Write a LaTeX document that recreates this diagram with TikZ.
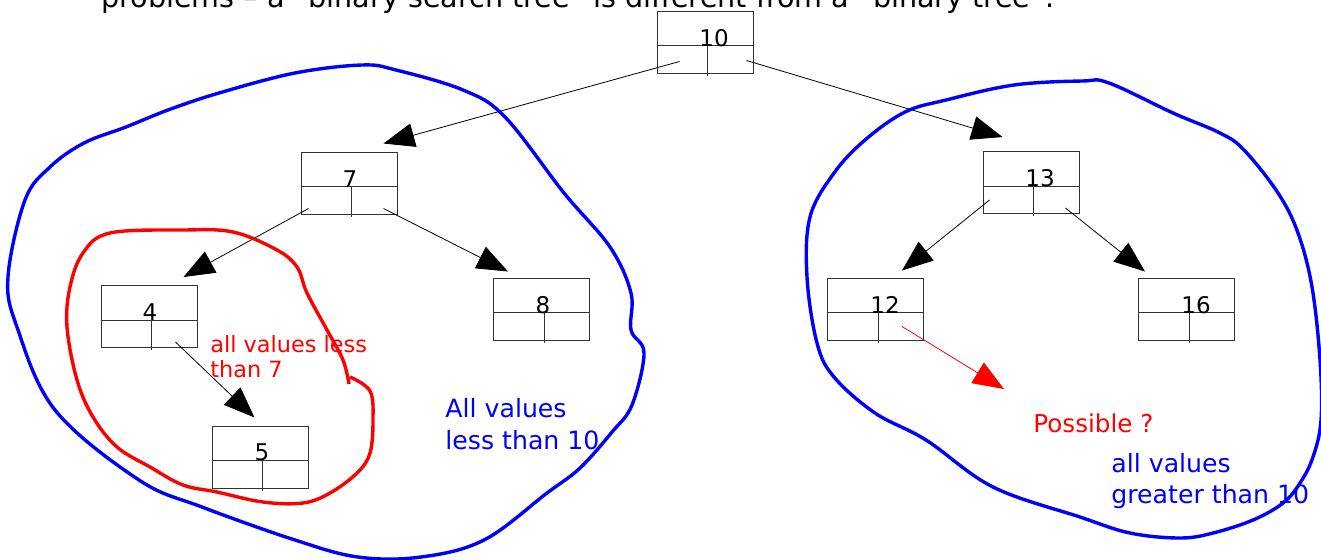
\documentclass[tikz,border=0pt]{standalone}
\usepackage{fontspec}
\setmainfont{DejaVu Sans}
\usetikzlibrary{arrows.meta, calc, positioning}

\begin{document}
\begin{tikzpicture}[
    x=0.5pt, y=-0.5pt,
    bstbox/.style={draw=black!80, line width=0.5pt, rectangle, minimum width=48pt, minimum height=31pt, inner sep=0pt},
    keytext/.style={anchor=base, inner sep=0pt, font=\fontsize{11.5}{13}\selectfont},
    divider/.style={draw=black!80, line width=0.5pt},
    link/.style={-{Triangle[length=15.5pt, width=12pt]}, line width=0.4pt},
    region/.style={line width=1.7pt, line join=round},
    note/.style={anchor=base west, inner sep=0pt, align=left}
]

\useasboundingbox (0,0) rectangle (1321,559);
\clip (0,0) rectangle (1321,559);

% Heading (cut at the top)
\node[note, font=\fontsize{14.3}{17}\selectfont] (title) at (101,7) {problems – a “binary search tree” is different from a “binary tree”.};

% Tree boxes
\node[bstbox] (n10) at (705,42) {};
\node[bstbox] (n7) at (349,183) {};
\node[bstbox] (n4) at (149,316.5) {};
\node[bstbox] (n8) at (541.5,309) {};
\node[bstbox] (n5) at (260,457) {};
\node[bstbox] (n13) at (1031,182.5) {};
\node[bstbox] (n12) at (875.5,309) {};
\node[bstbox] (n16) at (1186.5,309) {};

% Cells of each box
\foreach \n in {n10,n7,n4,n8,n5,n13,n12,n16} {
    \draw[divider] ($(\n.north west)+(0,35)$) -- ($(\n.north east)+(0,35)$);
    \draw[divider] ($(\n.north west)+(51,35)$) -- ($(\n.south west)+(51,2)$);
}

% Keys
\node[keytext] (k10) at (714,46) {10};
\node[keytext] (k7) at (350,187) {7};
\node[keytext] (k4) at (150,320) {4};
\node[keytext] (k8) at (543,313) {8};
\node[keytext] (k5) at (262,460) {5};
\node[keytext] (k13) at (1040,186) {13};
\node[keytext] (k12) at (885,313) {12};
\node[keytext] (k16) at (1196,313) {16};

% Link ends
\coordinate (s10l) at ([shift={(23,-12)}]n10.south west);
\coordinate (s10r) at ([shift={(-7,-13)}]n10.south east);
\coordinate (e7) at ([shift={(83,-8)}]n7.north west);
\coordinate (e13) at ([shift={(20,-14)}]n13.north west);
\coordinate (s7l) at ([shift={(8,-6)}]n7.south west);
\coordinate (s7r) at ([shift={(-14,-6)}]n7.south east);
\coordinate (e4) at ([shift={(83,-8)}]n4.north west);
\coordinate (e8) at ([shift={(15,-6)}]n8.north west);
\coordinate (s4r) at ([shift={(-22,-6)}]n4.south east);
\coordinate (e5) at ([shift={(43,-8)}]n5.north west);
\coordinate (s13l) at ([shift={(7,-14)}]n13.south west);
\coordinate (s13r) at ([shift={(-14,-6)}]n13.south east);
\coordinate (e12) at ([shift={(75,-7)}]n12.north west);
\coordinate (e16) at ([shift={(7,-6)}]n16.north west);
\coordinate (s12r) at ([shift={(-22,-14)}]n12.south east);
\coordinate (e12r) at (1004,389);

% Links
\draw[link] (s10l) -- (e7);
\draw[link] (s10r) -- (e13);
\draw[link] (s7l) -- (e4);
\draw[link] (s7r) -- (e8);
\draw[link] (s4r) -- (e5);
\draw[link] (s13l) -- (e12);
\draw[link] (s13r) -- (e16);
\draw[link, red] (s12r) -- (e12r);

% Left subtree region
\draw[region, blue] plot[smooth cycle, tension=0.6] coordinates {
    (362,65) (396,70) (463,90) (505,117) (564,193) (610,247) (631,293)
    (631,330) (644,353) (632,405) (612,432) (580,468) (547,493) (484,540) (421,557)
    (358,557) (295,540) (202,507) (139,480) (55,410) (17,327) (8,277)
    (25,200) (50,167) (84,143) (126,127) (168,110) (219,93) (295,73)};

% Right subtree region
\draw[region, blue] plot[smooth cycle, tension=0.6] coordinates {
    (1082,81) (1109,83) (1173,113) (1220,133) (1244,150) (1278,193)
    (1298,233) (1312,287) (1320,360) (1321,420) (1313,457) (1300,483)
    (1283,503) (1253,520) (1213,533) (1180,538) (1130,533) (1080,517)
    (993,487) (926,440) (875,413) (834,377) (817,343) (807,277)
    (810,217) (834,173) (865,140) (905,112) (946,100) (1014,85)};

% Region of node 4
\draw[region, red] plot[smooth, tension=0.6] coordinates {
    (350,377) (370,391) (373,420) (370,453) (357,473) (330,493) (303,503)
    (263,502) (217,492) (183,485) (150,467) (117,447) (93,417) (77,380)
    (67,327) (70,287) (83,253) (110,233) (183,230) (233,232) (277,250)
    (297,267) (307,293) (327,330) (343,360) (349,384)};

% Notes (placed at the baseline of the last line)
\node[note, red, font=\fontsize{11.2}{12.5}\selectfont] (less7) at (210,377) {all values less\\than 7};
\node[note, blue, font=\fontsize{12.6}{16}\selectfont] (less10) at (445,449) {All values\\less than 10};
\node[note, red, font=\fontsize{12.3}{15}\selectfont] (possible) at (1033,432) {Possible ?};
\node[note, blue, font=\fontsize{12.6}{15.5}\selectfont] (greater10) at (1111,503) {all values\\greater than 10};

\end{tikzpicture}
\end{document}
